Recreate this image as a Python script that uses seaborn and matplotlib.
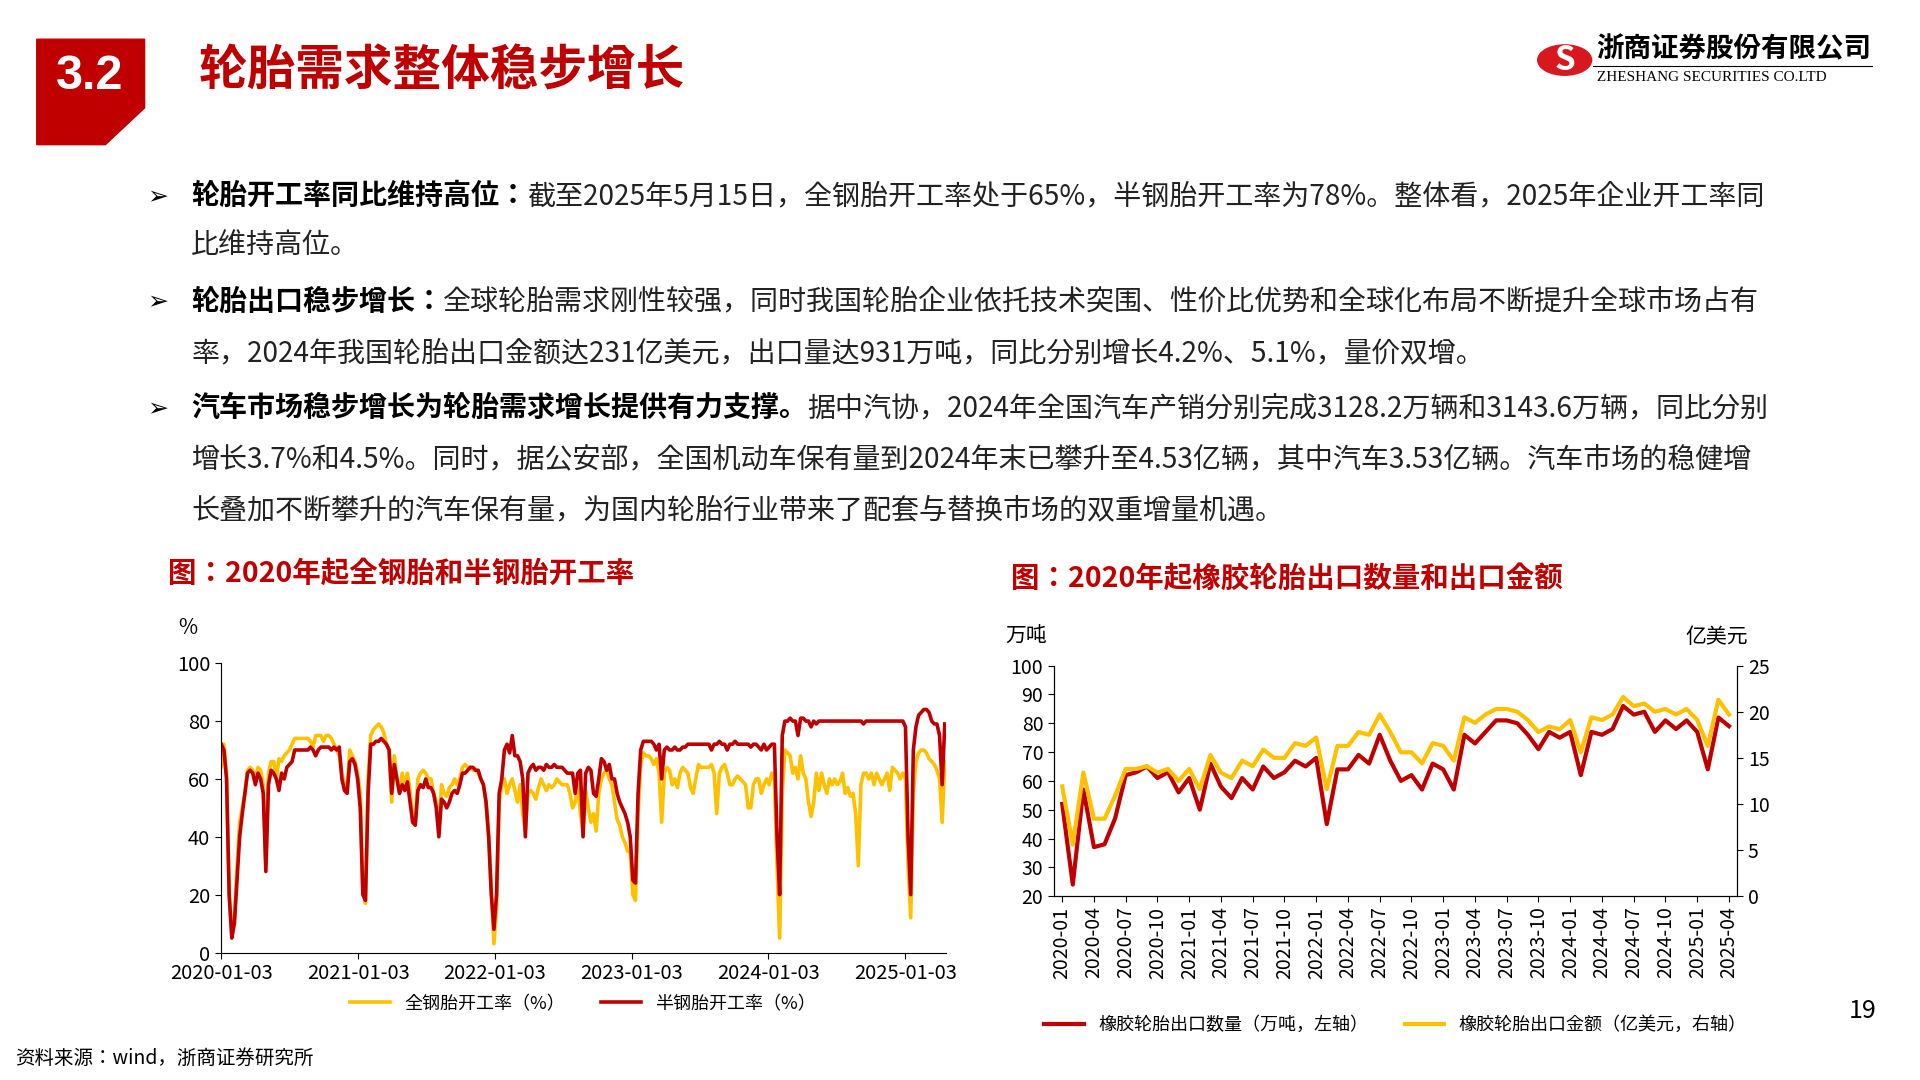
import numpy as np
import pandas as pd
import seaborn as sns
import matplotlib.pyplot as plt
from matplotlib.patches import Polygon, Circle
from matplotlib.lines import Line2D

plt.rcParams['font.family'] = ['Noto Sans CJK JP', 'DejaVu Sans']
plt.rcParams['axes.unicode_minus'] = False

RED = '#C00000'
YEL = '#FFC000'

# ---- 开工率 weekly data (%) ----
semi_2020 = [72,70,60,20,5,10,25,40,48,55,62,63,62,58,62,60,55,28,58,63,62,60,56,62,60,64,65,66,70,70,70,70,70,70,71,70,68,70,71,71,71,71,70,71,70,71,60,56,55,66,67,65]
full_2020 = [64,72,62,20,8,12,30,45,50,55,63,64,63,60,64,63,58,30,62,66,66,60,67,66,68,69,70,72,74,74,74,74,74,74,73,71,75,75,75,73,75,75,74,72,70,68,62,58,56,70,68,66]
semi_2021 = [60,50,20,18,55,72,72,73,73,74,73,72,70,55,65,60,55,58,56,59,52,45,44,56,58,57,60,57,57,55,50,40,53,52,50,52,55,56,55,58,62,62,63,64,64,63,63,60,58,52,40,20]
full_2021 = [62,55,22,17,60,75,77,78,79,78,76,72,70,52,68,60,55,62,58,62,56,47,45,60,62,63,62,60,60,55,52,42,58,55,54,57,58,60,58,60,64,65,64,64,63,63,62,60,58,52,40,22]
semi_2022 = [8,20,55,60,70,72,69,75,68,68,66,60,40,62,64,65,63,64,64,63,65,64,64,65,64,64,64,63,62,62,62,55,62,63,40,62,64,63,55,54,60,67,66,63,65,60,60,55,52,50,48,45]
full_2022 = [3,15,52,58,60,55,58,60,56,52,58,48,42,55,56,55,53,57,60,58,56,58,57,58,60,59,58,58,58,55,50,52,58,48,42,56,50,45,48,42,55,60,62,63,60,58,52,46,44,40,38,35]
semi_2023 = [40,25,24,55,70,73,73,73,73,72,70,72,60,70,71,70,70,71,70,70,71,71,72,72,72,72,72,72,72,72,72,70,72,72,73,72,72,70,72,72,73,72,72,72,72,72,71,72,72,71,70,72]
full_2023 = [35,20,18,48,65,69,68,68,67,65,67,62,45,62,64,63,58,60,57,62,64,63,62,57,55,60,65,64,64,64,64,65,62,48,62,64,65,62,58,58,60,61,60,59,58,50,50,58,60,60,55,58]
semi_2024 = [70,71,72,72,40,20,75,80,80,81,80,80,75,81,81,80,80,78,80,79,80,80,80,80,80,80,80,80,80,80,80,80,80,80,80,80,80,79,80,80,80,80,80,80,80,80,80,80,80,80,80,80]
full_2024 = [60,58,62,60,30,5,55,70,69,68,62,64,60,68,62,60,52,47,52,62,56,62,58,55,60,58,60,58,59,62,55,57,54,55,48,30,58,62,62,60,62,58,62,60,58,60,62,56,64,63,62,60]
semi_2025 = [80,78,40,20,70,78,82,83,84,84,83,80,79,79,75,58,79]
full_2025 = [62,60,30,12,55,66,69,70,70,69,67,66,65,63,60,45,66]

semi_rate = semi_2020 + semi_2021 + semi_2022 + semi_2023 + semi_2024 + semi_2025
full_rate = full_2020 + full_2021 + full_2022 + full_2023 + full_2024 + full_2025
n = min(len(semi_rate), len(full_rate))
weeks = pd.date_range('2020-01-03', periods=n, freq='7D')
rate_ticks = ['2020-01-03', '2021-01-03', '2022-01-03', '2023-01-03', '2024-01-03', '2025-01-03']

# ---- 出口 monthly data ----
months = pd.period_range('2020-01', '2025-04', freq='M').strftime('%Y-%m').tolist()
export_qty = [52,24,57,37,38,47,62,63,65,61,63,56,
              61,50,66,58,54,61,57,65,61,63,67,65,
              68,45,64,64,69,66,76,67,60,62,57,66,
              64,57,76,73,77,81,81,80,76,71,77,75,
              77,62,77,76,78,86,83,84,77,81,78,81,
              77,64,82,79]
export_val = [11.9,5.6,13.4,8.4,8.4,10.9,13.8,13.8,14.1,13.4,13.8,12.5,
              13.8,11.6,15.3,13.4,12.8,14.7,14.1,15.9,15.0,15.0,16.6,16.3,
              17.2,11.6,16.3,16.3,17.8,17.5,19.7,17.8,15.6,15.6,14.4,16.6,
              16.3,14.7,19.4,18.8,19.7,20.3,20.3,20.0,19.1,17.8,18.4,18.1,
              19.1,15.6,19.4,19.1,19.7,21.6,20.6,20.9,20.0,20.3,19.7,20.3,
              19.1,16.3,21.3,19.7]

W, H = 1567, 881
def fx(x): return x / W
def fy(y): return 1 - y / H

fig = plt.figure(figsize=(19.2, 10.8), dpi=100)
fig.patch.set_facecolor('white')

# header
fig.patches.append(Polygon([(fx(30), fy(32)), (fx(118), fy(32)), (fx(118), fy(88)),
                            (fx(86), fy(118)), (fx(30), fy(118))],
                           closed=True, transform=fig.transFigure, color=RED))
fig.text(fx(73), fy(62), '3.2', color='white', fontsize=35, fontweight='bold',
         ha='center', va='center', family='Liberation Sans')
fig.text(fx(162), fy(58), '轮胎需求整体稳步增长', color=RED, fontsize=35,
         fontweight='bold', va='center')

# logo
fig.patches.append(Circle((fx(1277), fy(49)), 22 / W, transform=fig.transFigure, color='#D7191F'))
fig.text(fx(1277), fy(49), 'S', color='white', fontsize=24, fontweight='bold', ha='center', va='center')
fig.text(fx(1303), fy(40), '浙商证券股份有限公司', fontsize=19.8, fontweight='bold', va='center')
fig.text(fx(1303), fy(63), 'ZHESHANG SECURITIES CO.LTD', fontsize=11, va='center', family='Liberation Serif')
fig.add_artist(Line2D([fx(1300), fx(1528)], [fy(54), fy(54)], color='black', lw=0.8))

# bullets
bullets = [
    (160, '轮胎开工率同比维持高位：', '截至2025年5月15日，全钢胎开工率处于65%，半钢胎开工率为78%。整体看，2025年企业开工率同'),
    (200, '', '比维持高位。'),
    (246, '轮胎出口稳步增长：', '全球轮胎需求刚性较强，同时我国轮胎企业依托技术突围、性价比优势和全球化布局不断提升全球市场占有'),
    (288, '', '率，2024年我国轮胎出口金额达231亿美元，出口量达931万吨，同比分别增长4.2%、5.1%，量价双增。'),
    (333, '汽车市场稳步增长为轮胎需求增长提供有力支撑。', '据中汽协，2024年全国汽车产销分别完成3128.2万辆和3143.6万辆，同比分别'),
    (375, '', '增长3.7%和4.5%。同时，据公安部，全国机动车保有量到2024年末已攀升至4.53亿辆，其中汽车3.53亿辆。汽车市场的稳健增'),
    (416, '', '长叠加不断攀升的汽车保有量，为国内轮胎行业带来了配套与替换市场的双重增量机遇。'),
]
renderer = fig.canvas.get_renderer()
for y, bold, normal in bullets:
    x0 = fx(156)
    if bold:
        fig.text(fx(120), fy(y), '➢', fontsize=18, va='center', family='DejaVu Sans')
        t = fig.text(x0, fy(y), bold, fontsize=20.2, fontweight='bold', va='center')
        bb = t.get_window_extent(renderer)
        x0 = bb.x1 / fig.bbox.width
    fig.text(x0, fy(y), normal, fontsize=20.2, va='center', color='#222222')

# chart titles
fig.text(fx(137), fy(468), '图：2020年起全钢胎和半钢胎开工率', color=RED, fontsize=20.5, fontweight='bold', va='center')
fig.text(fx(825), fy(472), '图：2020年起橡胶轮胎出口数量和出口金额', color=RED, fontsize=20.5, fontweight='bold', va='center')

# ---- left chart ----
ax1 = fig.add_axes([fx(180), fy(777), fx(772) - fx(180), fy(541) - fy(777)])
rate_df = pd.DataFrame({'date': weeks, 'full': full_rate[:n], 'semi': semi_rate[:n]})
sns.lineplot(data=rate_df, x='date', y='full', ax=ax1, color=YEL, lw=2.6, label='全钢胎开工率（%）')
sns.lineplot(data=rate_df, x='date', y='semi', ax=ax1, color=RED, lw=2.6, label='半钢胎开工率（%）')
ax1.set_ylim(0, 100)
ax1.set_yticks(range(0, 101, 20))
ax1.set_xlim(pd.Timestamp('2020-01-01'), weeks[-1] + pd.Timedelta(days=3))
ax1.set_xticks(pd.to_datetime(rate_ticks))
ax1.set_xticklabels(rate_ticks)
ax1.set_xlabel('')
ax1.set_ylabel('')
for s in ['top', 'right']:
    ax1.spines[s].set_visible(False)
ax1.tick_params(labelsize=14.5, direction='out', length=4)
ax1.text(-0.045, 1.1, '%', transform=ax1.transAxes, fontsize=15, ha='center')
ax1.legend(loc='upper center', bbox_to_anchor=(0.5, -0.09), ncol=2, frameon=False,
           fontsize=13, handlelength=2.2, columnspacing=2)

# ---- right chart ----
ax2 = fig.add_axes([fx(860), fy(731), fx(1418) - fx(860), fy(543) - fy(731)])
exp_df = pd.DataFrame({'month': np.arange(len(months)), 'qty': export_qty, 'val': export_val})
sns.lineplot(data=exp_df, x='month', y='qty', ax=ax2, color=RED, lw=3, legend=False)
ax2.set_ylim(20, 100)
ax2.set_yticks(range(20, 101, 10))
ax3 = ax2.twinx()
sns.lineplot(data=exp_df, x='month', y='val', ax=ax3, color=YEL, lw=3, legend=False)
ax3.set_ylim(0, 25)
ax3.set_yticks(range(0, 26, 5))
ax2.set_xlim(-0.8, len(months) - 0.2)
ax2.set_xticks(range(0, len(months), 3))
ax2.set_xticklabels(months[::3], rotation=90)
for a in (ax2, ax3):
    a.set_xlabel('')
    a.set_ylabel('')
    a.spines['top'].set_visible(False)
    a.tick_params(labelsize=14, direction='out', length=4)
ax2.text(-0.04, 1.1, '万吨', transform=ax2.transAxes, fontsize=15, ha='center')
ax3.text(0.97, 1.1, '亿美元', transform=ax2.transAxes, fontsize=15, ha='center')
handles = [Line2D([], [], color=RED, lw=3), Line2D([], [], color=YEL, lw=3)]
ax2.legend(handles, ['橡胶轮胎出口数量（万吨，左轴）', '橡胶轮胎出口金额（亿美元，右轴）'],
           loc='upper center', bbox_to_anchor=(0.5, -0.45), ncol=2, frameon=False,
           fontsize=13, handlelength=2.2, columnspacing=2)

fig.text(fx(1520), fy(825), '19', fontsize=18, ha='center', va='center')
fig.text(fx(12), fy(863), '资料来源：wind，浙商证券研究所', fontsize=14, va='center')

fig.savefig('out.png', dpi=100)
